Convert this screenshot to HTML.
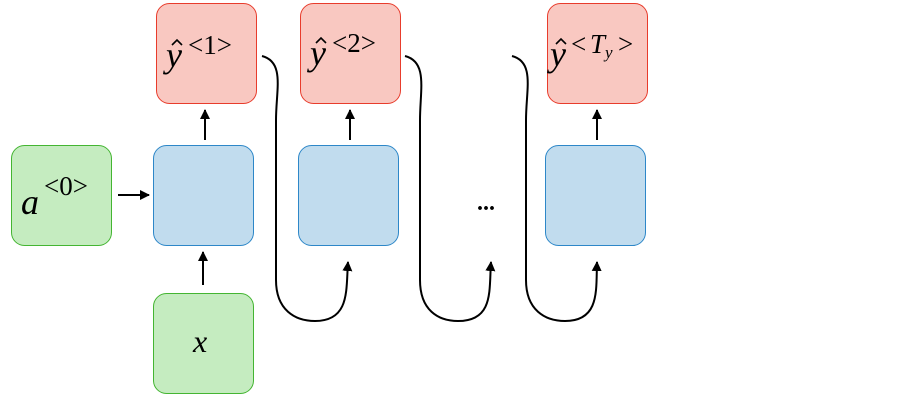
<!DOCTYPE html>
<html><head><meta charset="utf-8"><style>
html,body{margin:0;padding:0;background:#fff;width:900px;height:400px;overflow:hidden}
text{font-family:"Liberation Serif",serif;font-style:italic;fill:#000}
.s{font-style:normal}
</style></head><body>
<svg width="900" height="400" viewBox="0 0 900 400" xmlns="http://www.w3.org/2000/svg">
<defs><marker id="ar" viewBox="0 0 10 10" refX="9" refY="5" markerWidth="5" markerHeight="5" orient="auto"><path d="M0,0L10,5L0,10z" fill="#000"/></marker></defs>
<g stroke-width="1">
<rect x="11.5" y="145.5" width="100" height="100" rx="13" fill="#c5ecc0" stroke="#44b532"/>
<rect x="153.5" y="293.5" width="100" height="100" rx="13" fill="#c5ecc0" stroke="#44b532"/>
<rect x="153.5" y="145.5" width="100" height="100" rx="13" fill="#c1dcee" stroke="#2d87c8"/>
<rect x="298.5" y="145.5" width="100" height="100" rx="13" fill="#c1dcee" stroke="#2d87c8"/>
<rect x="545.5" y="145.5" width="100" height="100" rx="13" fill="#c1dcee" stroke="#2d87c8"/>
<rect x="156.5" y="3.5" width="100" height="100" rx="13" fill="#f9c8c1" stroke="#e83c2c"/>
<rect x="300.5" y="3.5" width="100" height="100" rx="13" fill="#f9c8c1" stroke="#e83c2c"/>
<rect x="547.5" y="3.5" width="100" height="100" rx="13" fill="#f9c8c1" stroke="#e83c2c"/>
</g>
<g stroke="#000" stroke-width="2" fill="none" marker-end="url(#ar)">
<line x1="118" y1="195" x2="149" y2="195"/>
<line x1="203" y1="285" x2="203" y2="252"/>
<line x1="205" y1="140" x2="205" y2="110"/>
<line x1="350" y1="140" x2="350" y2="110"/>
<line x1="597" y1="140" x2="597" y2="110"/>
<path d="M262,56 C285,62 276,90 276,120 L276,280 C276,310 295,321 315,321 C350,321 346,290 348,262"/>
<path d="M405,56 C428,62 420,90 420,120 L420,280 C420,310 438,321 458,321 C494,321 489,290 491,262"/>
<path d="M512,56 C535,62 526,90 526,120 L526,280 C526,310 545,321 565,321 C600,321 596,290 597,262"/>
</g>
<g stroke="#000" stroke-width="1.6" fill="none">
<path d="M172,45 L177,40 L182,45"/>
<path d="M316,43 L321,38 L326,43"/>
<path d="M556,44 L561,39 L566,44"/>
</g>
<text x="21" y="214" font-size="36">a</text><text x="44" y="195" font-size="27" class="s">&lt;0&gt;</text>
<text x="193" y="352" font-size="32">x</text>
<text x="166" y="67" font-size="36">y</text><text x="188" y="54" font-size="27" class="s">&lt;1&gt;</text>
<text x="310" y="65" font-size="36">y</text><text x="332" y="52" font-size="27" class="s">&lt;2&gt;</text>
<text x="550" y="66" font-size="36">y</text><text x="571" y="53" font-size="27" class="s">&lt;</text><text x="590" y="53" font-size="27">T</text><text x="605" y="58" font-size="17">y</text><text x="618" y="53" font-size="27" class="s">&gt;</text>
<text x="477" y="210" font-size="24" class="s" font-weight="bold">...</text>
</svg>
</body></html>
